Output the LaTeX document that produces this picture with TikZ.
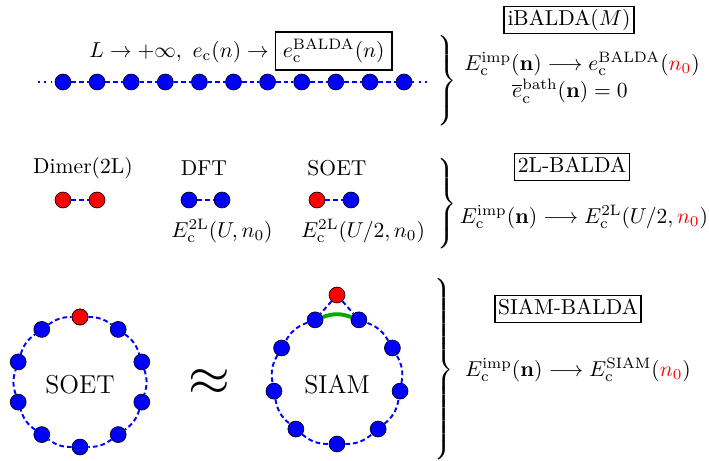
\documentclass[tikz,border=0pt]{standalone}
\usepackage{amsmath}
\usepackage{xcolor}
\usepackage{tikz}
\usetikzlibrary{calc,positioning}
\definecolor{bond}{HTML}{00AA00}
\setlength{\fboxrule}{0.8pt}
\newcommand{\ec}{_{\mathrm{c}}}

\begin{document}
\begin{tikzpicture}[x=0.0163cm,y=-0.0163cm,
  site/.style={circle,draw=black,line width=0.3pt,fill=blue,minimum size=0.26cm,inner sep=0pt},
  imp/.style={site,fill=red},
  hop/.style={blue,line width=0.9pt,dash pattern=on 2.2pt off 1.4pt},
  tail/.style={blue,line width=0.9pt,dotted},
  tag/.style={draw=black,line width=0.8pt,text height=7.5pt,text depth=2.5pt,inner xsep=1.5pt,inner ysep=1.3pt},
  curly/.style={inner sep=0pt}]
\useasboundingbox (0,0) rectangle (709,460);
% infinite chain
\foreach \i in {0,...,10} \node[site] (c\i) at (63+34.1*\i,82) {};
\coordinate (cl) at (38,82); \coordinate (cr) at (430,82);
\draw[tail] (cl) -- (c0); \draw[tail] (c10) -- (cr);
\foreach \i [count=\j from 1] in {0,...,9} \draw[hop] (c\i) -- (c\j);
\node (limit) at (241,51) {$L\to+\infty,\ e\ec(n)\to\fbox{$e\ec^{\mathrm{BALDA}}(n)$}$};
\node[curly] (br1) at (446,82) {$\left.\rule[-19.5pt]{0pt}{39pt}\right\}$};
\node[tag] (ibalda) at (569,20) {iBALDA$(M)$};
\node (ibeq) at (582,64) {$E\ec^{\mathrm{imp}}(\mathbf{n})\longrightarrow e\ec^{\mathrm{BALDA}}({\color{red}n_0})$};
\node (bath) at (570,91) {$\overline{e}\ec^{\mathrm{bath}}(\mathbf{n})=0$};
% dimers
\node (dimlab) at (83,168) {Dimer(2L)};
\node (dftlab) at (204,168) {DFT};
\node (soetlab) at (337,168) {SOET};
\node[imp] (d1) at (63,200) {}; \node[imp] (d2) at (97,200) {};
\node[site] (f1) at (189,200) {}; \node[site] (f2) at (222,200) {};
\node[imp] (s1) at (317,200) {}; \node[site] (s2) at (351,200) {};
\draw[hop] (d1) -- (d2); \draw[hop] (f1) -- (f2); \draw[hop] (s1) -- (s2);
\node (dfteq) at (222,231) {$E\ec^{\mathrm{2L}}(U,n_0)$};
\node (soeteq) at (363,231) {$E\ec^{\mathrm{2L}}(U/2,n_0)$};
\node[curly] (br2) at (446,205) {$\left.\rule[-19.5pt]{0pt}{39pt}\right\}$};
\node[tag] (twol) at (572,167) {2L-BALDA};
\node (twoleq) at (584,217) {$E\ec^{\mathrm{imp}}(\mathbf{n})\longrightarrow E\ec^{\mathrm{2L}}(U/2,{\color{red}n_0})$};
% rings
\foreach \k in {0,...,9} \node[site] (r\k) at ({80+65*cos(90-36*\k)},{382-65*sin(90-36*\k)}) {};
\node[imp] at (r0) {};
\foreach \k [count=\l from 1] in {0,...,8} \draw[hop] (r\k) to[bend left=18] (r\l);
\draw[hop] (r9) to[bend left=18] (r0);
\node (soetring) at (80,385) {\large SOET};
\node (approx) at (209,383) {\Huge$\approx$};
\foreach \k in {0,...,8} \node[site] (q\k) at ({337+64*cos(-90+40*\k)},{380-64*sin(-90+40*\k)}) {};
\node[imp] (qi) at (337,295) {};
\foreach \a/\b in {0/1,1/2,2/3,3/4,5/6,6/7,7/8,8/0} \draw[hop] (q\a) to[bend right=20] (q\b);
\draw[hop] (qi) -- (q4); \draw[hop] (qi) -- (q5);
\draw[bond,line width=1.8pt] (q5) to[bend left=20] (q4);
\node (siamring) at (337,385) {\large SIAM};
\node[curly] (br3) at (443,370) {$\left.\rule[-40pt]{0pt}{80pt}\right\}$};
\node[tag] (siam) at (568,309) {SIAM-BALDA};
\node (siameq) at (578,370) {$E\ec^{\mathrm{imp}}(\mathbf{n})\longrightarrow E\ec^{\mathrm{SIAM}}({\color{red}n_0})$};
\end{tikzpicture}
\end{document}
